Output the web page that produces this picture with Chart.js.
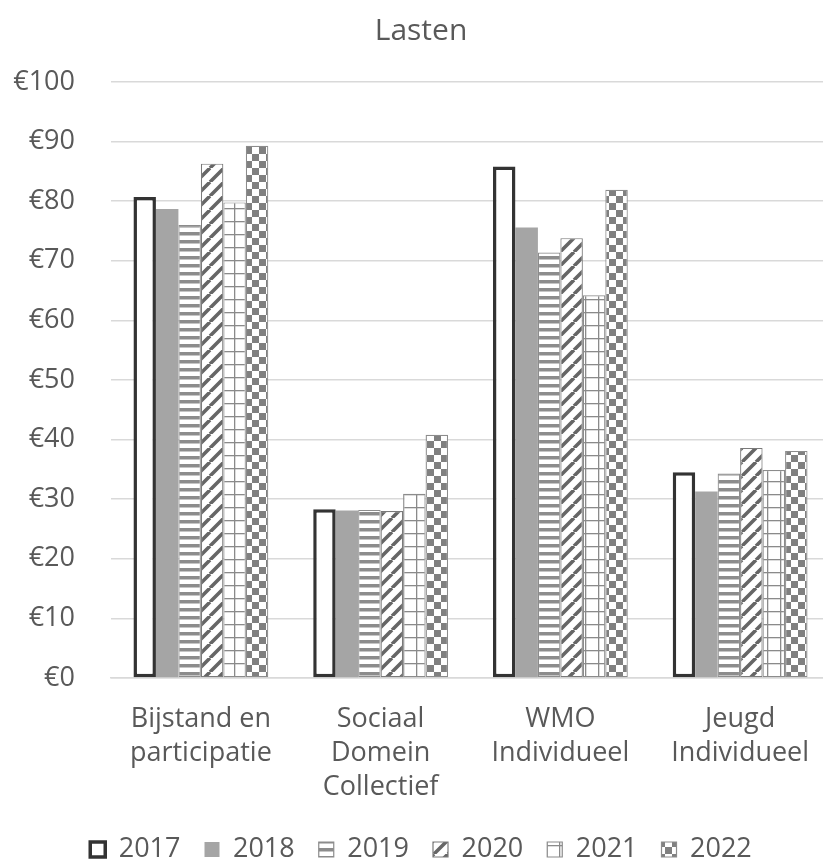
<!DOCTYPE html>
<html><head><meta charset="utf-8">
<script src="https://cdn.jsdelivr.net/npm/chart.js@4/dist/chart.umd.min.js"></script>
<style>html,body{margin:0;padding:0;background:#fff;overflow:hidden;width:823px;height:863px}#wrap{width:830px;height:863px}canvas{display:block}</style>
</head><body><div id="wrap"><canvas id="c" width="830" height="863"></canvas></div>
<script>
const categories = [["Bijstand en","participatie"],["Sociaal","Domein","Collectief"],["WMO","Individueel"],["Jeugd","Individueel"]];
const years = ["2017","2018","2019","2020","2021","2022"];
const v2017 = [80.7, 28.3, 85.8, 34.5];
const v2018 = [78.7, 28.1, 75.6, 31.3];
const v2019 = [76.0, 28.2, 71.4, 34.3];
const v2020 = [86.3, 28.0, 73.8, 38.6];
const v2021 = [79.8, 30.9, 64.2, 34.9];
const v2022 = [89.3, 40.8, 81.9, 38.1];
const yTicks = [0,10,20,30,40,50,60,70,80,90,100];

function pat(w,h,draw){const c=document.createElement('canvas');c.width=w;c.height=h;const g=c.getContext('2d');g.fillStyle='#fff';g.fillRect(0,0,w,h);draw(g);return document.getElementById('c').getContext('2d').createPattern(c,'repeat');}
const pHoriz = pat(8,8,g=>{g.fillStyle='#8c8c8c';g.fillRect(0,0,8,3.5);});
const pDiag = pat(14,14,g=>{g.strokeStyle='#666';g.lineWidth=3.6;g.beginPath();for(let k=-14;k<=28;k+=14){g.moveTo(k,14);g.lineTo(k+14,0);}g.stroke();});
const pGrid = pat(13,13,g=>{g.fillStyle='#8a8a8a';g.fillRect(0,0,13,1.3);g.fillRect(0,0,1.3,13);});
const pCheck = pat(14,14,g=>{g.fillStyle='#808080';g.fillRect(0,0,7,7);g.fillRect(7,7,7,7);});

const series = [v2017,v2018,v2019,v2020,v2021,v2022];
const bgs = ['#ffffff','#a5a5a5',pHoriz,pDiag,pGrid,pCheck];
const bds = ['#333333','#a5a5a5','#8c8c8c','#7a7a7a','#8c8c8c','#8c8c8c'];
const bws = [3.5,0,1.2,1.2,1.2,1.2];

Chart.defaults.font.family = "'Open Sans', sans-serif";
Chart.defaults.color = '#595959';
new Chart(document.getElementById('c'), {
  type:'bar',
  data:{labels:categories, datasets: years.map((y,i)=>({label:y,data:series[i],backgroundColor:bgs[i],borderColor:bds[i],borderWidth:bws[i],borderSkipped:false,categoryPercentage:0.75,barPercentage:1}))},
  options:{responsive:false,animation:false,
    layout:{padding:{left:12,right:0,top:0,bottom:-10}},
    plugins:{
      title:{display:true,text:'Lasten',font:{size:30,weight:'normal'},color:'#595959',padding:{top:13,bottom:33}},
      legend:{position:'bottom',labels:{boxWidth:15,boxHeight:15,font:{size:27},color:'#595959',padding:24},onClick:null},
      tooltip:{enabled:false}
    },
    scales:{
      x:{grid:{display:false,drawTicks:false},border:{color:'#d9d9d9',width:1.5},ticks:{font:{size:27,lineHeight:1.26},color:'#595959',padding:24,maxRotation:0,autoSkip:false},
         afterFit:s=>{s.paddingLeft=0;s.paddingRight=0;s.height-=16;}},
      y:{min:0,max:100,afterBuildTicks:a=>{a.ticks=yTicks.map(v=>({value:v}));},grid:{color:'#d9d9d9',lineWidth:1.5,drawTicks:false},border:{display:false},
         ticks:{font:{size:27},color:'#595959',padding:36,callback:v=>'€'+v},
         afterFit:s=>{s.width=99;}}
    }
  }
});
</script></body></html>
